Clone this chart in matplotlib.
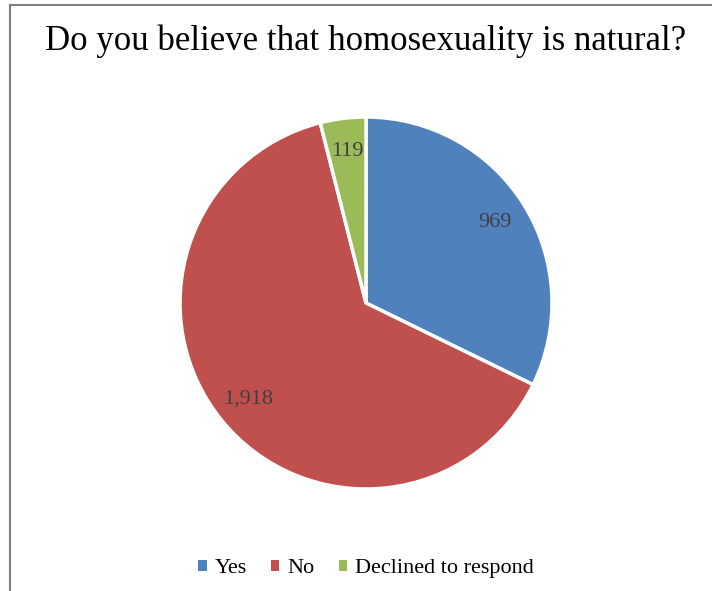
import matplotlib.pyplot as plt
from matplotlib.lines import Line2D
from matplotlib.patches import Patch

categories = ["Yes", "No", "Declined to respond"]
counts = [969, 1918, 119]
colors = ["#4F81BD", "#C0504D", "#9BBB59"]

total = sum(counts)

fig = plt.figure(figsize=(7.12, 5.91), dpi=100)
plt.rcParams['font.family'] = ['Liberation Serif', 'DejaVu Serif']

ax = fig.add_axes([0.2528, 0.1726, 0.5225, 0.6294])
wedges, texts, autotexts = ax.pie(
    counts, colors=colors, startangle=90, counterclock=False,
    autopct=lambda p: "{:,}".format(int(round(p * total / 100))),
    pctdistance=0.82,
    wedgeprops={"edgecolor": "white", "linewidth": 2.5},
    textprops={"color": "#404040", "fontsize": 16})
ax.set_xlim(-1, 1)
ax.set_ylim(-1, 1)
ax.set_aspect("equal")

fig.text(0.514, 0.93, "Do you believe that homosexuality is natural?",
         ha="center", va="center", fontsize=25, color="black")

handles = [Patch(facecolor=c, edgecolor="none") for c in colors]
fig.legend(handles, categories, loc="center", bbox_to_anchor=(0.514, 0.038),
           ncol=3, frameon=False, fontsize=16, handlelength=0.38, handleheight=0.38,
           handletextpad=0.35, columnspacing=1.1)

# chart frame (top and left edges visible)
fig.add_artist(Line2D([10 / 712, 1], [1 - 5 / 591, 1 - 5 / 591],
                      transform=fig.transFigure, color="#808080", lw=1.5))
fig.add_artist(Line2D([10 / 712, 10 / 712], [0, 1 - 5 / 591],
                      transform=fig.transFigure, color="#808080", lw=1.5))

fig.savefig("out.png", dpi=100)
